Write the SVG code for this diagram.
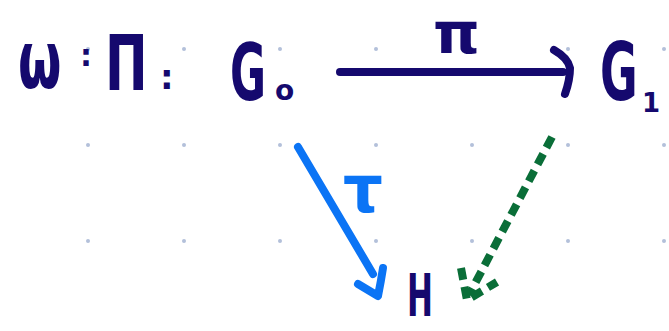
<svg xmlns="http://www.w3.org/2000/svg" width="669" height="331" viewBox="0 0 669 331">
<style>
.t{font-family:"DejaVu Sans","Liberation Sans",sans-serif;font-weight:bold;fill:#15096e}
.dot{fill:#b3c0da}
.nv{stroke:#15096e;fill:none;stroke-width:8;stroke-linecap:round;stroke-linejoin:round}
.bl{stroke:#0b74f5;fill:none;stroke-width:8;stroke-linecap:round;stroke-linejoin:round}
.gr{stroke:#0a6e38;fill:none;stroke-width:8;stroke-dasharray:12 7}
.lb{fill:#0b74f5}
</style>
<rect width="669" height="331" fill="#fff"/>
<g id="grid">
<circle class="dot" cx="88" cy="49" r="2"/><circle class="dot" cx="184" cy="49" r="2"/><circle class="dot" cx="280" cy="49" r="2"/><circle class="dot" cx="376" cy="49" r="2"/><circle class="dot" cx="472" cy="49" r="2"/><circle class="dot" cx="568" cy="49" r="2"/><circle class="dot" cx="664" cy="49" r="2"/>
<circle class="dot" cx="88" cy="145" r="2"/><circle class="dot" cx="184" cy="145" r="2"/><circle class="dot" cx="280" cy="145" r="2"/><circle class="dot" cx="376" cy="145" r="2"/><circle class="dot" cx="472" cy="145" r="2"/><circle class="dot" cx="568" cy="145" r="2"/><circle class="dot" cx="664" cy="145" r="2"/>
<circle class="dot" cx="88" cy="241" r="2"/><circle class="dot" cx="184" cy="241" r="2"/><circle class="dot" cx="280" cy="241" r="2"/><circle class="dot" cx="376" cy="241" r="2"/><circle class="dot" cx="472" cy="241" r="2"/><circle class="dot" cx="568" cy="241" r="2"/><circle class="dot" cx="664" cy="241" r="2"/>
</g>
<g id="title">
<text class="t" font-size="50" transform="translate(18 88) scale(1 1.6)">ω</text>
<text class="t" x="80" y="66" font-size="30">:</text>
<text class="t" font-size="51" transform="translate(105 90) scale(1 1.5)">Π</text>
<text class="t" x="160" y="89" font-size="34">:</text>
</g>
<g id="node-G0">
<text class="t" font-size="44" transform="translate(230 100) scale(1 1.8)">G</text>
<text class="t" x="275" y="100" font-size="28">o</text>
</g>
<g id="node-G1">
<text class="t" font-size="46" transform="translate(600 100) scale(1 1.75)">G</text>
<text class="t" x="642" y="112" font-size="26">1</text>
</g>
<g id="node-H">
<text class="t" x="407" y="316" font-size="58" textLength="26" lengthAdjust="spacingAndGlyphs">H</text>
</g>
<g id="connectors">
<path class="nv" d="M340 72 H563"/>
<path class="nv" d="M554 50 Q568 58 570 68 Q570 80 565 94"/>
<text class="t" x="433" y="53" font-size="56" textLength="47" lengthAdjust="spacingAndGlyphs">π</text>
<path class="bl" d="M298 147 L373 274"/>
<path class="bl" d="M358 284 L378 296 Q381 281 383 268"/>
<text class="t lb" x="343" y="212" font-size="66" textLength="40" lengthAdjust="spacingAndGlyphs">τ</text>
<path class="gr" d="M552 137 L469 295"/>
<path class="gr" d="M461 268 L467 300 L497 282"/>
</g>
</svg>
